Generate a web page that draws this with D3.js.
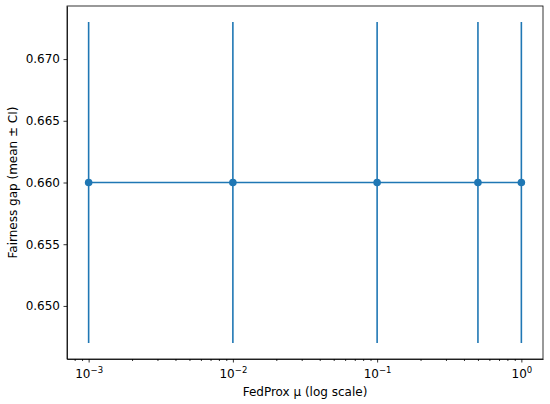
<!DOCTYPE html>
<html>
<head>
<meta charset="utf-8">
<script src="https://cdn.jsdelivr.net/npm/d3@7"></script>
<style>
  body { margin: 0; background: #fff; }
  svg text { font-family: "DejaVu Sans", sans-serif; fill: #000; }
</style>
</head>
<body>
<div id="chart"></div>
<script>
// data
const mu = [0.001, 0.01, 0.1, 0.5, 1];
const gapMean = [0.66, 0.66, 0.66, 0.66, 0.66];
const gapCI = [0.013, 0.013, 0.013, 0.013, 0.013];
const yTicks = [0.65, 0.655, 0.66, 0.665, 0.67];
const xTicks = [0.001, 0.01, 0.1, 1];

const W = 550, H = 404;
const margin = { top: 6, right: 7, bottom: 45, left: 67 };
const width = W - margin.left - margin.right;
const height = H - margin.top - margin.bottom;
const color = "#1f77b4";

const svg = d3.select("#chart").append("svg")
  .attr("width", W).attr("height", H);
const g = svg.append("g")
  .attr("transform", `translate(${margin.left},${margin.top})`);

// log axis with 5% margins like matplotlib
const x = d3.scaleLog()
  .domain([Math.pow(10, -3.15), Math.pow(10, 0.15)])
  .range([0, width]);
const y = d3.scaleLinear()
  .domain([0.6457, 0.6743])
  .range([height, 0]);

// x axis major
const xAxis = g.append("g")
  .attr("transform", `translate(0,${height})`)
  .call(d3.axisBottom(x).tickValues(xTicks).tickSize(3.5).tickSizeOuter(0)
    .tickPadding(3).tickFormat(() => ""));
xAxis.selectAll(".tick").each(function (d) {
  const t = d3.select(this).append("text")
    .attr("y", 19).attr("text-anchor", "middle")
    .style("font-size", "12px");
  t.append("tspan").text("10");
  t.append("tspan").attr("dy", -5).style("font-size", "8.5px")
    .text(String(Math.round(Math.log10(d))).replace("-", "\u2212"));
});

// minor ticks
const minor = [];
for (let e = -4; e <= 0; e++) {
  for (let k = 2; k <= 9; k++) {
    const v = k * Math.pow(10, e);
    if (v >= x.domain()[0] && v <= x.domain()[1]) minor.push(v);
  }
}
g.append("g")
  .attr("transform", `translate(0,${height})`)
  .call(d3.axisBottom(x).tickValues(minor).tickSize(2).tickFormat(""))
  .call(a => a.select(".domain").remove());

// y axis
g.append("g")
  .call(d3.axisLeft(y).tickValues(yTicks).tickSize(3.5).tickSizeOuter(0)
    .tickPadding(3.5).tickFormat(d3.format(".3f")))
  .selectAll("text").style("font-size", "12px");

g.selectAll(".domain, .tick line").attr("stroke", "#000").attr("stroke-width", 0.8);

// frame
g.append("rect")
  .attr("width", width).attr("height", height)
  .attr("fill", "none").attr("stroke", "#000").attr("stroke-width", 0.8);

// error bars
g.append("g").selectAll("line")
  .data(mu)
  .enter().append("line")
  .attr("x1", d => x(d)).attr("x2", d => x(d))
  .attr("y1", (d, i) => y(gapMean[i] - gapCI[i]))
  .attr("y2", (d, i) => y(gapMean[i] + gapCI[i]))
  .attr("stroke", color).attr("stroke-width", 1.6);

// mean line
const line = d3.line()
  .x(d => x(d))
  .y((d, i) => y(gapMean[i]));
g.append("path")
  .attr("d", line(mu))
  .attr("fill", "none").attr("stroke", color).attr("stroke-width", 1.6);

g.append("g").selectAll("circle")
  .data(mu)
  .enter().append("circle")
  .attr("cx", d => x(d))
  .attr("cy", (d, i) => y(gapMean[i]))
  .attr("r", 3.8)
  .attr("fill", color);

// labels
svg.append("text")
  .attr("x", margin.left + width / 2).attr("y", 396)
  .attr("text-anchor", "middle").style("font-size", "12px")
  .text("FedProx \u03BC (log scale)");
svg.append("text")
  .attr("transform", `translate(17,${margin.top + height / 2}) rotate(-90)`)
  .attr("text-anchor", "middle").style("font-size", "12px")
  .text("Fairness gap (mean \u00B1 CI)");
</script>
</body>
</html>
